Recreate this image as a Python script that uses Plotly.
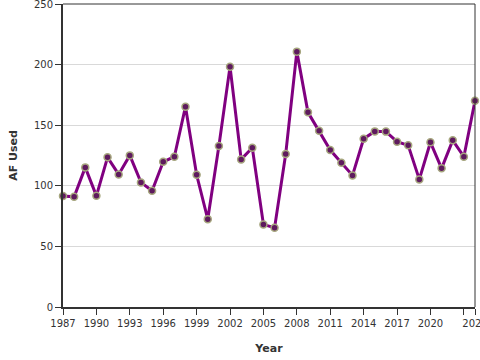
import plotly.graph_objects as go

years = list(range(1987, 2025))
af_used = [91.5, 90.9, 115.2, 91.7, 123.5, 109.4, 125.1, 102.8, 95.9, 119.8,
           124.0, 165.3, 109.1, 72.5, 132.8, 198.3, 121.8, 131.4, 68.1, 65.3,
           126.2, 210.7, 160.6, 145.5, 129.5, 119.0, 108.6, 138.8, 144.9, 144.7,
           136.4, 133.4, 105.3, 135.9, 114.4, 137.5, 124.0, 170.2]

x_tickvals = [1987, 1990, 1993, 1996, 1999, 2002, 2005, 2008, 2011, 2014, 2017, 2020, 2023, 2024]
x_ticktext = ["1987", "1990", "1993", "1996", "1999", "2002", "2005", "2008", "2011", "2014", "2017", "2020", "", "2024"]
y_tickvals = [0, 50, 100, 150, 200, 250]

fig = go.Figure()
fig.add_trace(go.Scatter(
    x=years, y=af_used, mode="lines+markers",
    line=dict(color="#800080", width=3),
    marker=dict(size=7, color="#5e1a5e", line=dict(color="#a6a67e", width=1.5)),
    cliponaxis=False,
))

fig.update_layout(
    width=480, height=360,
    margin=dict(l=63, r=5, t=4, b=53, autoexpand=False),
    paper_bgcolor="white", plot_bgcolor="white",
    showlegend=False,
    font=dict(family="DejaVu Sans", size=10, color="#333"),
    shapes=[
        dict(type="line", xref="paper", yref="paper", x0=0, x1=1, y0=1, y1=1,
             line=dict(color="#333", width=1)),
        dict(type="line", xref="paper", yref="paper", x0=1, x1=1, y0=0, y1=1,
             line=dict(color="#333", width=1)),
    ],
)
fig.update_xaxes(
    range=[1987, 2024], tickvals=x_tickvals, ticktext=x_ticktext,
    automargin=False, ticklabeloverflow="allow",
    showgrid=False, zeroline=False,
    showline=True, linecolor="#333", linewidth=2,
    ticks="outside", ticklen=6, tickcolor="#333", tickwidth=1,
    title=dict(text="<b>Year</b>", font=dict(size=11, color="#333"), standoff=16),
)
fig.update_yaxes(
    range=[0, 250], tickvals=y_tickvals,
    automargin=False, ticklabeloverflow="allow",
    showgrid=True, gridcolor="#d9d9d9", gridwidth=1, zeroline=False,
    showline=True, linecolor="#333", linewidth=2,
    ticks="outside", ticklen=6, tickcolor="#333", tickwidth=1,
    title=dict(text="<b>AF Used</b>", font=dict(size=11, color="#333"), standoff=14),
)

fig.write_html("out.html", config={"displayModeBar": False},
               post_script="document.body.style.margin='0';")
